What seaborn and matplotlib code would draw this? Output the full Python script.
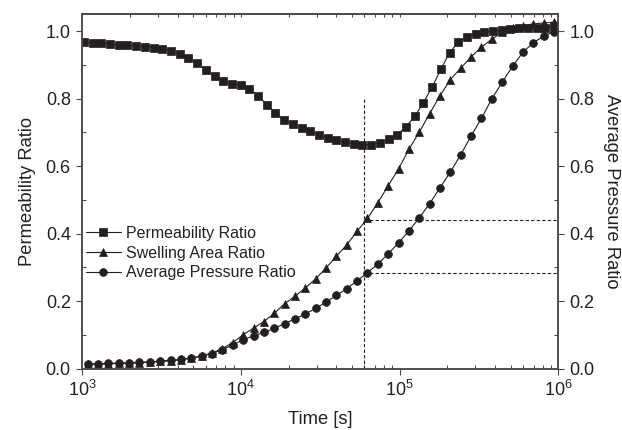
import matplotlib
matplotlib.use('Agg')
import matplotlib.pyplot as plt
import seaborn as sns
from matplotlib.ticker import LogLocator, MultipleLocator, NullFormatter

sns.set_style('ticks')
plt.rcParams['font.family'] = ['Liberation Sans', 'DejaVu Sans']
plt.rcParams['mathtext.fontset'] = 'custom'
plt.rcParams['mathtext.rm'] = 'Liberation Sans'

# 数据
perm_time = [1029, 1168, 1325, 1503, 1705, 1934, 2194, 2490, 2825, 3205,
             3635, 4124, 4679, 5308, 6022, 6832, 7749, 8790, 9972, 11310,
             12830, 14560, 16520, 18740, 21260, 24120, 27360, 31040, 35220, 39950,
             45330, 51420, 58340, 66190, 75090, 85190, 96610, 109600, 124300, 141100,
             160000, 181600, 206000, 233700, 265100, 300800, 341200, 387100, 439200, 498200,
             565200, 641200, 727500, 825300, 936200]
perm_ratio = [0.967, 0.966, 0.964, 0.962, 0.960, 0.959, 0.957, 0.955, 0.952, 0.948,
              0.942, 0.933, 0.922, 0.906, 0.886, 0.867, 0.852, 0.844, 0.841, 0.830,
              0.809, 0.783, 0.758, 0.738, 0.725, 0.714, 0.703, 0.693, 0.685, 0.678,
              0.671, 0.667, 0.664, 0.664, 0.669, 0.680, 0.694, 0.717, 0.748, 0.788,
              0.835, 0.887, 0.937, 0.967, 0.984, 0.992, 0.997, 1.000, 1.004, 1.007,
              1.009, 1.010, 1.010, 1.011, 1.015]

sim_time = [1086, 1262, 1467, 1704, 1981, 2302, 2675, 3109, 3613, 4199,
            4880, 5669, 6590, 7656, 8900, 10340, 12020, 13960, 16230, 18860,
            21910, 25470, 29600, 34390, 39970, 46440, 53970, 62720, 72880, 84700,
            98420, 114400, 132900, 154500, 179500, 208600, 242400, 281700, 327300, 380400,
            442000, 513600, 597000, 693700, 806300, 937000]
swell_ratio = [0.013, 0.013, 0.014, 0.015, 0.016, 0.017, 0.019, 0.021, 0.023, 0.026,
               0.031, 0.037, 0.046, 0.059, 0.077, 0.100, 0.120, 0.139, 0.164, 0.192,
               0.214, 0.239, 0.266, 0.298, 0.333, 0.367, 0.407, 0.445, 0.492, 0.542,
               0.592, 0.650, 0.701, 0.756, 0.809, 0.857, 0.891, 0.924, 0.953, 0.977,
               0.997, 1.010, 1.017, 1.022, 1.025, 1.027]
pressure_ratio = [0.014, 0.014, 0.015, 0.016, 0.017, 0.018, 0.020, 0.022, 0.024, 0.027,
                  0.031, 0.037, 0.044, 0.056, 0.070, 0.085, 0.097, 0.107, 0.119, 0.133,
                  0.147, 0.162, 0.178, 0.197, 0.217, 0.237, 0.260, 0.284, 0.310, 0.340,
                  0.373, 0.408, 0.447, 0.489, 0.536, 0.583, 0.634, 0.690, 0.742, 0.800,
                  0.849, 0.896, 0.938, 0.966, 0.986, 0.999]

# 参考线
mark_time = 6.0e4
mark_top = 0.80
mark_levels = [0.44, 0.284]

ink = '#231f20'
spine_c = '#4a4a4a'
text_c = '#222222'

fig = plt.figure(figsize=(6.22, 4.30), dpi=100)
ax = fig.add_axes([0.1318, 0.1430, 0.7661, 0.8233])
ax2 = ax.twinx()

line_kw = dict(color=ink, linewidth=0.8, markeredgecolor=ink, markeredgewidth=0.5, legend=False)
sns.lineplot(x=perm_time, y=perm_ratio, ax=ax, marker='s', markersize=5.2, **line_kw)
sns.lineplot(x=sim_time, y=swell_ratio, ax=ax, marker='^', markersize=6.2, **line_kw)
sns.lineplot(x=sim_time, y=pressure_ratio, ax=ax2, marker='o', markersize=5.6, **line_kw)

# 虚线
ax.vlines(mark_time, 0, mark_top, colors=ink, linestyles=(0, (3, 2)), linewidth=0.8)
ax.hlines(mark_levels, mark_time, 1e6, colors=ink, linestyles=(0, (3, 2)), linewidth=0.8)

for a in (ax, ax2):
    a.set_xscale('log')
    a.set_xlim(1e3, 1e6)
    a.set_ylim(0, 1.05)
    a.yaxis.set_major_locator(MultipleLocator(0.2))
    a.yaxis.set_minor_locator(MultipleLocator(0.1))
    a.yaxis.set_major_formatter(matplotlib.ticker.FormatStrFormatter('%.1f'))
    for s in a.spines.values():
        s.set_color(spine_c)
        s.set_linewidth(1.1)

ax.xaxis.set_major_locator(LogLocator(base=10))
ax.xaxis.set_minor_locator(LogLocator(base=10, subs=range(2, 10)))
ax.xaxis.set_minor_formatter(NullFormatter())

ax.tick_params(which='major', direction='out', length=4.5, width=0.8, colors=spine_c,
               labelcolor=text_c, labelsize=13, right=False, top=False)
ax.tick_params(which='minor', direction='in', length=3, width=0.8, colors=spine_c,
               right=False, top=False)
ax2.tick_params(which='major', direction='out', length=4.5, width=0.8, colors=spine_c,
                labelcolor=text_c, labelsize=13)
ax2.tick_params(which='minor', direction='in', length=3, width=0.8, colors=spine_c)

top = ax.secondary_xaxis('top')
top.tick_params(which='both', direction='in', length=2.5, width=0.8, colors=spine_c, labeltop=False)
top.spines['top'].set_color(spine_c)
top.spines['top'].set_linewidth(1.1)

ax.set_xlabel('Time [s]', fontsize=13.2, color=text_c, labelpad=8)
ax.set_ylabel('Permeability Ratio', fontsize=13.2, color=text_c, labelpad=7)
ax2.set_ylabel('Average Pressure Ratio', fontsize=13.2, color=text_c, rotation=270, labelpad=18)

handles = [ax.lines[0], ax.lines[1], ax2.lines[0]]
labels = ['Permeability Ratio', 'Swelling Area Ratio', 'Average Pressure Ratio']
ax2.legend(handles, labels, loc='center left', bbox_to_anchor=(0.008, 0.326),
           frameon=False, fontsize=11.5, borderpad=0, borderaxespad=0,
           handlelength=2.2, handletextpad=0.3, labelspacing=0.3, labelcolor=text_c)

fig.savefig('out.png', dpi=100)
